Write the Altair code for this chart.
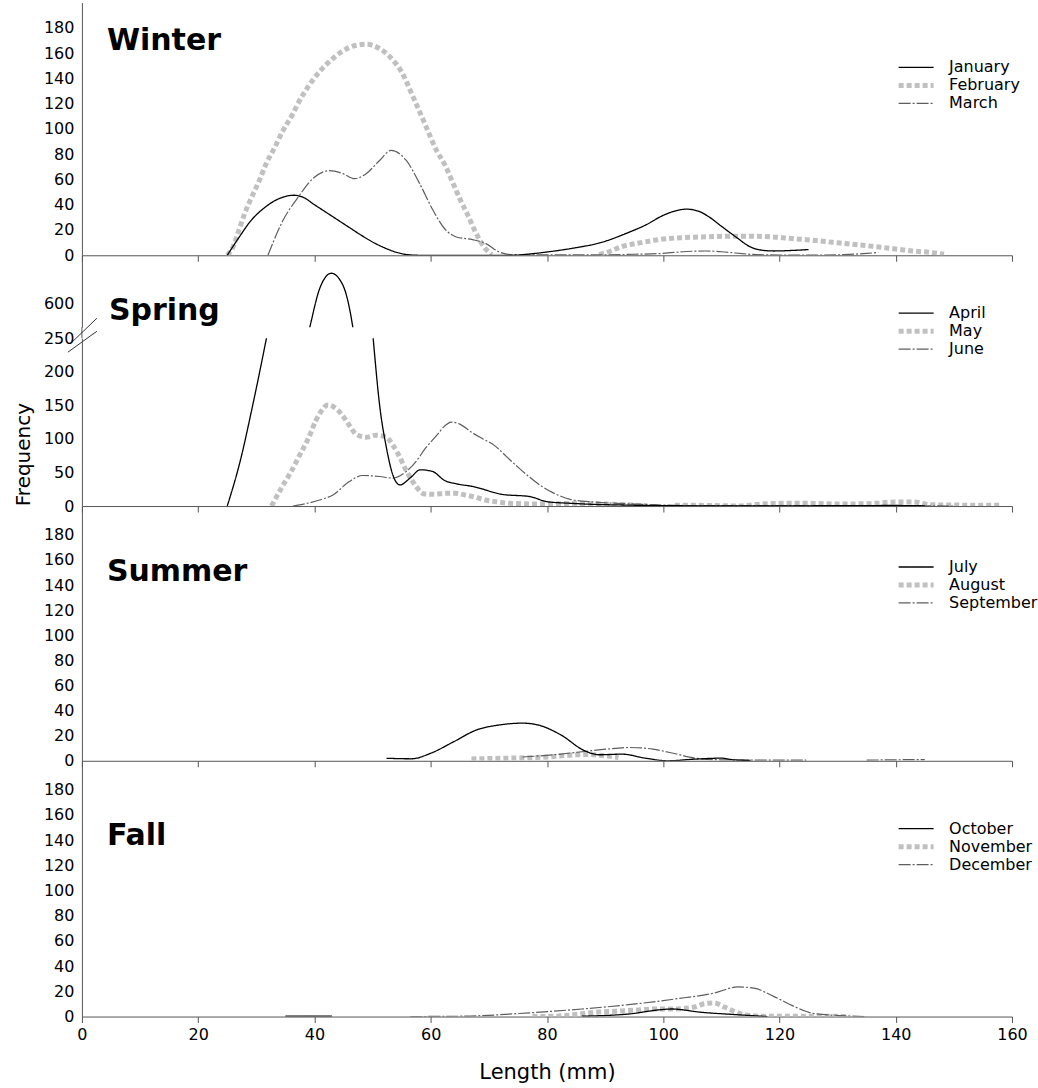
import altair as alt
import pandas as pd

FONT = "DejaVu Sans"
X_TICKS = [0, 20, 40, 60, 80, 100, 120, 140, 160]

# ---------------- data ----------------
# Winter
jan_x = [25, 27, 29, 31.5, 34, 36.5, 38, 40, 42, 44, 46, 48, 50, 52, 54, 56, 58, 70, 74, 77, 80, 85, 89, 94, 97, 100, 102, 104, 106, 108, 110, 112.5, 115, 117, 119, 122, 125]
jan_y = [0, 14, 27, 38, 45, 47.5, 46, 40, 34, 28, 22, 16, 10.5, 6, 2.5, 0.5, 0, 0, 0, 1, 2.6, 6, 9.7, 18, 24, 31.6, 35, 36.5, 35, 30, 23, 14.5, 6.6, 4, 3.4, 3.8, 4.5]
feb_x1 = [25, 26, 27, 28, 29.2, 30.5, 31.7, 33.2, 34.6, 36.3, 37, 39, 41, 43, 45, 47, 49, 51, 53, 55, 57, 59, 61, 62.5, 63.8, 65, 66.4, 67.7, 69.4, 70.5]
feb_y1 = [0, 6.6, 19.8, 33, 46, 59, 72.5, 85.6, 98.8, 112, 118.6, 134, 146, 155, 162, 166, 167, 164, 157, 145, 125, 104, 83, 71, 57.4, 44.8, 31.6, 18.4, 5.3, 0.5]
feb_x2 = [89, 91, 92.7, 96.2, 99.6, 103, 106.5, 110.2, 115.4, 118.8, 122.2, 125.7, 129.1, 132.5, 136, 139.4, 142.9, 146.3, 148.3]
feb_y2 = [0.5, 3.4, 6.6, 10, 12.6, 13.9, 14.5, 15, 15, 14.5, 13.2, 11.9, 10.3, 8.7, 7.1, 5.3, 3.4, 2.1, 0.8]
mar_x = [32, 34.6, 37.2, 39.7, 42.6, 44.9, 46.9, 48.9, 51.2, 53.2, 55.8, 58.1, 60.4, 62.4, 64.4, 67.2, 69.5, 71.8, 74.1, 80, 88, 95, 100, 104, 107.3, 110, 112.5, 116, 120, 126, 131, 135, 137]
mar_y = [0, 27.7, 46, 60.6, 67, 64.6, 60.6, 64.6, 75, 83, 75, 56.7, 35.6, 21, 14.5, 12.4, 9.2, 2.6, 0.5, 0.3, 0.3, 0.8, 1.5, 3, 3.4, 2.8, 1.8, 0.5, 0.2, 0.2, 0.5, 1.5, 2.2]

# Spring
apr_x = [25, 27.2, 29.4, 31.7, 34, 36.5, 39.2, 40.9, 42.9, 44.9, 46.6, 48.5, 50.1, 51.2, 52.4, 53.5, 54.7, 56.5, 58.2, 60.3, 62.4, 64.5, 67.3, 72.2, 77.1, 80, 84.2, 88, 93.3, 100, 110, 120, 130, 140, 145]
apr_y = [0, 66, 151, 248, 350, 460, 565, 623, 646, 628, 565, 420, 250, 151, 86, 46, 31.5, 42, 54, 51.5, 38, 33, 29, 17.5, 14, 6.5, 4, 2.5, 1.5, 0.5, 0.3, 0.3, 0.5, 0.8, 0.3]
may_x1 = [32.6, 34.3, 36, 37.5, 39, 40.2, 41, 42.3, 43.9, 45.1, 46.1, 47.2, 48.9, 50.6, 52.4, 53.5, 54.4, 55.8, 56.6, 57.5, 58.9, 60.7, 62.4, 64.2, 65.9, 67.7, 69.4, 71.2, 73.6, 79.3, 84.9, 89.8, 94.7, 97.1]
may_y1 = [0, 26.6, 51.5, 76.5, 101.5, 126.6, 139, 150.5, 144, 131.6, 119, 106.6, 102.5, 105.5, 102.5, 90.5, 77.6, 52.5, 40.5, 29, 18, 17.5, 19, 19, 16.5, 13, 9, 6.5, 4, 3, 4, 3, 1.5, 0.5]
may_x2 = [102, 106, 110, 113, 117, 121, 125, 130, 135, 140, 143, 146, 150, 155, 158]
may_y2 = [1, 1, 0.5, 0, 3, 4, 4, 3, 3.5, 6, 6, 2, 1.5, 1, 1]
jun_x = [36.3, 40.9, 43.2, 46, 48.3, 51.2, 53.5, 55.8, 57.5, 59, 61, 62.5, 63.5, 65, 67, 69, 71, 73, 75, 77, 79, 81, 84, 88, 92, 97, 102, 110, 120, 130, 140, 150]
jun_y = [0, 9, 16.5, 36.5, 45.5, 44, 41.6, 51.5, 66.5, 85, 105, 120, 125, 122, 110, 100, 90, 74, 58, 43, 30, 20, 10, 6, 4, 2.5, 1, 0.5, 0.5, 0.5, 0.5, 0]

# Summer
jul_x = [52.4, 56.7, 60, 64, 67.9, 71.9, 75.8, 78.4, 82.4, 86.4, 89, 92.9, 96.9, 100.8, 105.4, 110, 112, 115]
jul_y = [2, 1.6, 6, 15.3, 24.6, 28.6, 30, 28.6, 20.6, 8.2, 4.8, 5.3, 2.1, 0, 1.3, 2.1, 0.8, 0.3]
aug_x = [67, 72, 77, 80, 84, 87, 90, 92.3]
aug_y = [1.5, 2, 2.5, 3, 4.5, 5, 4, 2.6]
sep_x1 = [75.8, 81.1, 86.4, 90.3, 94.2, 98.2, 102.1, 105.4, 110, 118, 124.6]
sep_y1 = [3, 4.8, 7.4, 9.3, 10.6, 9.3, 5.6, 2.1, 0.8, 0.5, 0.5]
sep_x2 = [135, 140, 145]
sep_y2 = [0.5, 0.8, 1]

# Fall
oct_x1 = [35, 43]
oct_y1 = [0.3, 0.3]
oct_x2 = [86, 94, 99.7, 101.4, 106.5, 112.2, 117.9]
oct_y2 = [0.3, 2, 5.5, 6, 3.4, 1.6, 0]
nov_x = [77.5, 81.5, 84.9, 88.3, 91.7, 95.1, 98.6, 102, 105.4, 107.1, 108.8, 110.5, 112.2, 113.9, 116.8, 122, 127, 132]
nov_y = [0, 0.3, 1.6, 3.4, 4.2, 5, 6, 6, 7.6, 10.2, 10.8, 7.6, 4.2, 1.6, 0.3, 0.3, 0.3, 0]
dec_x = [56.5, 65.6, 76.9, 86, 94, 102, 108.8, 112.8, 115.6, 119, 122.5, 125.9, 130.4, 135]
dec_y = [0, 0.3, 2.9, 6, 9.4, 13.9, 18.7, 23.5, 22.5, 16, 8, 2.4, 0.8, 0]

# ---------------- styles ----------------
COLORS = ["#000000", "#c0c0c0", "#5e5e5e"]
DASHES = [[1, 0], [5, 3], [12, 2, 2, 2]]
WIDTHS = [1.3, 5, 1.2]
AXIS_COLOR = "#555555"
ONE = pd.DataFrame({"k": [0]})


def build_df(parts):
    rows = []
    for month, seg, xs, ys in parts:
        for x, y in zip(xs, ys):
            rows.append({"x": x, "y": y, "month": month, "seg": f"{month}-{seg}"})
    return pd.DataFrame(rows)


def label_layer(text, px, py):
    return alt.Chart(ONE).mark_text(align="left", baseline="alphabetic", fontSize=30,
                                    font=FONT, fontWeight="bold", color="black").encode(
        x=alt.value(px), y=alt.value(py), text=alt.value(text))


def lines(df, months, ydomain, yvalues, legend=None,
          xaxis=True, xlabels=False, ytitle=None, xtitle=None):
    if legend is not None:
        leg = alt.Legend(orient="none", legendX=legend[0], legendY=legend[1], title=None,
                         symbolType="stroke", symbolSize=1225, clipHeight=16,
                         labelFontSize=16, labelFont=FONT, labelColor="black",
                         labelOffset=13, rowPadding=2)
    else:
        leg = None
    if xaxis:
        xax = alt.Axis(values=X_TICKS, tickSize=6, tickColor=AXIS_COLOR, domainColor=AXIS_COLOR,
                       grid=False, labels=xlabels, labelFontSize=16, labelFont=FONT,
                       labelColor="black", labelPadding=4, labelFlush=False,
                       title=xtitle, titleFontSize=21, titleFontWeight="normal",
                       titleFont=FONT, titleColor="black", titlePadding=19)
    else:
        xax = None
    yax_kwargs = dict(values=yvalues, tickSize=0, labelPadding=8, domainColor=AXIS_COLOR,
                      grid=False, labelFontSize=16, labelFont=FONT, labelColor="black")
    if ytitle:
        yax = alt.Axis(title=ytitle, titleFontSize=20, titleFontWeight="normal", titleFont=FONT,
                       titleColor="black", titleX=-58, titleY=116, titleAngle=270,
                       titleAlign="center", titleBaseline="middle", **yax_kwargs)
    else:
        yax = alt.Axis(title=None, **yax_kwargs)

    return alt.Chart(df).mark_line(interpolate="monotone", clip=True).encode(
        x=alt.X("x:Q", scale=alt.Scale(domain=[0, 160], nice=False, zero=False), axis=xax),
        y=alt.Y("y:Q", scale=alt.Scale(domain=ydomain, nice=False, zero=False), axis=yax),
        color=alt.Color("month:N", scale=alt.Scale(domain=months, range=COLORS), legend=leg),
        strokeDash=alt.StrokeDash("month:N", scale=alt.Scale(domain=months, range=DASHES), legend=leg),
        strokeWidth=alt.StrokeWidth("month:N", scale=alt.Scale(type="ordinal", domain=months, range=WIDTHS),
                                    legend=leg),
        detail="seg:N",
    )


winter_df = build_df([
    ("February", 1, feb_x1, feb_y1), ("February", 2, feb_x2, feb_y2),
    ("March", 1, mar_x, mar_y), ("January", 1, jan_x, jan_y)])
spring_df = build_df([
    ("May", 1, may_x1, may_y1), ("May", 2, may_x2, may_y2),
    ("June", 1, jun_x, jun_y), ("April", 1, apr_x, apr_y)])
summer_df = build_df([
    ("August", 1, aug_x, aug_y), ("September", 1, sep_x1, sep_y1),
    ("September", 2, sep_x2, sep_y2), ("July", 1, jul_x, jul_y)])
fall_df = build_df([
    ("November", 1, nov_x, nov_y), ("December", 1, dec_x, dec_y),
    ("October", 1, oct_x1, oct_y1), ("October", 2, oct_x2, oct_y2)])

W = 931
LEG_X = 815
winter = alt.layer(
    lines(winter_df, ["January", "February", "March"], [0, 200], list(range(0, 181, 20)),
          legend=(LEG_X, 57)),
    label_layer("Winter", 25, 48),
).properties(width=W, height=253)

spring_up = alt.layer(
    lines(spring_df, ["April", "May", "June"], [565, 673], [600], legend=(LEG_X, 50), xaxis=False),
    label_layer("Spring", 27, 65),
).properties(width=W, height=72)

# the axis break: a short piece of axis line and two slanted strokes
gap_rule = alt.Chart(ONE).mark_rule(color=AXIS_COLOR, strokeWidth=1, clip=False).encode(
    x=alt.value(0), y=alt.value(0), y2=alt.value(11))
brk1 = alt.Chart(ONE).mark_rule(color="#333333", strokeWidth=1, clip=False).encode(
    x=alt.value(-14), y=alt.value(25), x2=alt.value(15), y2=alt.value(4))
brk2 = alt.Chart(ONE).mark_rule(color="#333333", strokeWidth=1, clip=False).encode(
    x=alt.value(-10), y=alt.value(15), x2=alt.value(15), y2=alt.value(-9))
spacer = alt.layer(gap_rule, brk1, brk2).properties(width=W, height=11)

spring_low = lines(spring_df, ["April", "May", "June"], [0, 250], [0, 50, 100, 150, 200, 250],
                   ytitle="Frequency").properties(width=W, height=168)

summer = alt.layer(
    lines(summer_df, ["July", "August", "September"], [0, 203], list(range(0, 181, 20)),
          legend=(LEG_X, 53)),
    label_layer("Summer", 25, 75),
).properties(width=W, height=255)

fall = alt.layer(
    lines(fall_df, ["October", "November", "December"], [0, 203], list(range(0, 181, 20)),
          legend=(LEG_X, 60), xlabels=True, xtitle="Length (mm)"),
    label_layer("Fall", 25, 84),
).properties(width=W, height=256)

chart = alt.vconcat(winter, spring_up, spacer, spring_low, summer, fall,
                    spacing=0, bounds="flush").resolve_scale(
    color="independent", strokeDash="independent", strokeWidth="independent"
).resolve_legend(
    color="independent", strokeDash="independent", strokeWidth="independent"
).properties(
    padding={"left": 14, "top": 2, "right": 0, "bottom": 4}
).configure_view(stroke=None)

chart.save("out.html", embed_options={"renderer": "svg", "actions": False})
